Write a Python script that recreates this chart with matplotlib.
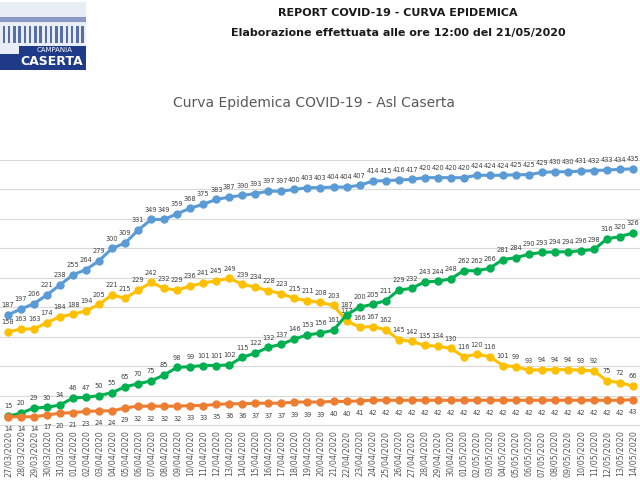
import matplotlib
matplotlib.use("Agg")
import matplotlib.pyplot as plt
from matplotlib.patches import Rectangle

dates = ["27/03","28/03","29/03","30/03","31/03"] + ["%02d/04" % d for d in range(1, 31)] + ["%02d/05" % d for d in range(1, 15)]
dates = [d + "/2020" for d in dates]
totale = [187,197,206,221,238,255,264,279,300,309,331,349,349,359,368,375,383,387,390,393,
          397,397,400,403,403,404,404,407,414,415,416,417,420,420,420,420,424,424,424,425,
          425,429,430,430,431,432,433,434,435]
positivi = [158,163,163,174,184,188,194,205,221,215,229,242,232,229,236,241,245,249,239,234,
            228,223,215,211,208,203,177,166,167,162,145,142,135,134,130,116,120,116,101,99,
            93,94,94,94,93,92,75,72,66]
guariti = [15,20,29,30,34,46,47,50,55,65,70,75,85,98,99,101,101,102,115,122,
           132,137,146,153,156,161,187,200,205,211,229,232,243,244,248,262,262,266,281,284,
           290,293,294,294,296,298,316,320,326]
deceduti = [14,14,14,17,20,21,23,24,24,29,32,32,32,32,33,33,35,36,36,37,
            37,37,39,39,39,40,40,41] + [42]*20 + [43]

fig = plt.figure(figsize=(6.4, 4.8), dpi=100)
fig.patch.set_facecolor("white")

fig.text(0.622, 0.972, "REPORT COVID-19 - CURVA EPIDEMICA", ha="center", va="center",
         fontsize=8, fontweight="bold", color="#1a1a1a")
fig.text(0.622, 0.931, "Elaborazione effettuata alle ore 12:00 del 21/05/2020", ha="center", va="center",
         fontsize=8, fontweight="bold", color="#1a1a1a")
fig.text(0.49, 0.786, "Curva Epidemica COVID-19 - Asl Caserta", ha="center", va="center",
         fontsize=10, color="#595959")
# logo
fig.patches.append(Rectangle((0.0, 0.86), 0.135, 0.135, transform=fig.transFigure,
                             facecolor="#e8edf6", edgecolor="none"))
fig.patches.append(Rectangle((0.0, 0.955), 0.135, 0.01, transform=fig.transFigure,
                             facecolor="#8a9ac4", edgecolor="none"))
for i in range(16):
    fig.patches.append(Rectangle((0.004 + i*0.0082, 0.91), 0.004, 0.035, transform=fig.transFigure,
                                 facecolor="#5a6ea6", edgecolor="none"))
fig.patches.append(Rectangle((0.03, 0.885), 0.105, 0.02, transform=fig.transFigure,
                             facecolor="#1f3b88", edgecolor="none"))
fig.patches.append(Rectangle((0.0, 0.855), 0.135, 0.032, transform=fig.transFigure,
                             facecolor="#1f3b88", edgecolor="none"))
fig.text(0.085, 0.895, "CAMPANIA", ha="center", va="center", fontsize=5, color="white")
fig.text(0.08, 0.871, "CASERTA", ha="center", va="center", fontsize=9, fontweight="bold", color="white")

ax = fig.add_axes([0.0, 0.1146, 1.0, 0.5521])
x = list(range(len(dates)))
series = [(totale, "#5B9BD5", 7), (positivi, "#FFC000", 7), (guariti, "#00B050", 7), (deceduti, "#ED7D31", -9)]
for vals, col, off in series:
    ax.plot(x, vals, color=col, lw=2.2, marker="o", ms=5, clip_on=False, zorder=3)
    for xi, v in zip(x, vals):
        ax.annotate(str(v), (xi, v), xytext=(0, off), textcoords="offset points",
                    ha="center", va="center", fontsize=4.8, color="#404040", annotation_clip=False)

ax.set_xlim(-0.614, 48.54)
ax.set_ylim(0, 450)
ax.set_yticks(range(0, 451, 50))
ax.yaxis.grid(True, color="#d9d9d9", lw=0.8)
ax.set_axisbelow(True)
ax.tick_params(axis="y", left=False, labelleft=False)
ax.set_xticks(x)
ax.set_xticklabels(dates, rotation=90, fontsize=5.8, color="#595959")
ax.tick_params(axis="x", length=0, pad=4)
for s in ["top", "right", "left"]:
    ax.spines[s].set_visible(False)
ax.spines["bottom"].set_color("#d9d9d9")
fig.savefig("out.png", dpi=100, facecolor="white")
